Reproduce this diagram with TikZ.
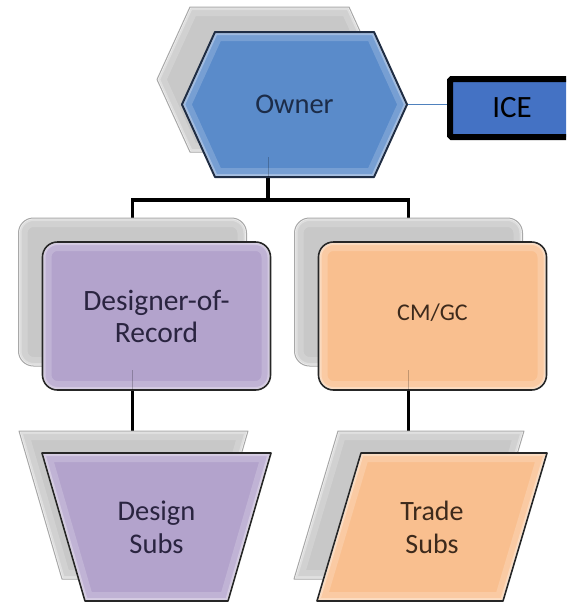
\documentclass[tikz,border=0pt]{standalone}
\usepackage{fontspec}
\setmainfont{Carlito}
\usetikzlibrary{calc}
\definecolor{ownerblue}{HTML}{5A8BCA}
\definecolor{ownerline}{HTML}{1F2D44}
\definecolor{iceblue}{HTML}{4472C4}
\definecolor{icelinec}{HTML}{4F81BD}
\definecolor{lav}{HTML}{B3A3CC}
\definecolor{peach}{HTML}{F9BF8F}
\definecolor{backgray}{HTML}{C8C8C8}
\definecolor{backline}{HTML}{A8A8A8}
\definecolor{ownertext}{HTML}{1C2C48}
\definecolor{lavtext}{HTML}{2A2440}
\definecolor{peachtext}{HTML}{3D2A1C}
\pgfdeclarelayer{conn}
\pgfdeclarelayer{backl}
\pgfdeclarelayer{frontl}
\pgfsetlayers{conn,backl,frontl,main}
\newcommand{\hexp}[2]{(#1.west) -- ($(#1.north west)+(#2,0)$) -- ($(#1.north east)+(-#2,0)$) -- (#1.east) -- ($(#1.south east)+(-#2,0)$) -- ($(#1.south west)+(#2,0)$) -- cycle}
\newcommand{\trapp}[2]{(#1.north west) -- (#1.north east) -- ($(#1.south east)+(-#2,0)$) -- ($(#1.south west)+(#2,0)$) -- cycle}
\newcommand{\parap}[2]{($(#1.north west)+(#2,0)$) -- (#1.north east) -- ($(#1.south east)+(-#2,0)$) -- (#1.south west) -- cycle}
\newcommand{\rrectp}[1]{[rounded corners=15pt] (#1.north west) rectangle (#1.south east)}
\newcommand{\bevelshape}[3]{%
  \fill[#2] #1;
  \begin{scope}
    \clip #1;
    \draw[white,opacity=0.18,line width=18pt] #1;
    \draw[white,opacity=0.30,line width=6pt] #1;
    \begin{scope}[xshift=7pt]
      \draw[white,opacity=0.65,line width=2.2pt] #1;
    \end{scope}
    \begin{scope}[xshift=-7pt]
      \draw[white,opacity=0.35,line width=1.6pt] #1;
    \end{scope}
  \end{scope}
  \draw[#3] #1;
}
\begin{document}
\begin{tikzpicture}[x=1pt,y=-1pt,
  shapebox/.style args={#1/#2}{minimum width=#1pt, minimum height=#2pt, inner sep=0pt, outer sep=0pt, align=center},
  tree/.style={line width=3.6pt, black},
  iceconn/.style={line width=0.9pt, icelinec},
  frontline/.style={line width=1.6pt, black!85, line join=round},
  backedge/.style={line width=1pt, backline, line join=round},
  faint/.style={line width=1pt, black, opacity=0.22}]
\useasboundingbox (0,0) rectangle (566,603);
% ---- nodes (text on main layer)
\node[shapebox=225/145, text=ownertext, font=\fontsize{28.5}{33}\selectfont] (owner) at (294.5,104.5) {Owner};
\node[shapebox=225/145] (ownerback) at (269.5,79.5) {};
\node[shapebox=124/58, font=\fontsize{31}{35}\selectfont] (ice) at (512,108) {ICE};
\node[shapebox=228/148, text=lavtext, font=\fontsize{29.5}{32}\selectfont] (dor) at (156.5,316) {Designer-of-\\Record};
\node[shapebox=228/148] (dorback) at (132.5,292) {};
\node[shapebox=228/148, text=peachtext, font=\fontsize{24}{28}\selectfont, text depth=8pt] (cm) at (432.5,316) {CM/GC};
\node[shapebox=228/148] (cmback) at (408.5,292) {};
\node[shapebox=229/148, text=lavtext, font=\fontsize{28.5}{33}\selectfont] (ds) at (156.5,527) {Design\\Subs};
\node[shapebox=229/148] (dsback) at (133.5,505) {};
\node[shapebox=230/148, text=peachtext, font=\fontsize{28}{33}\selectfont] (ts) at (432,527) {Trade\\Subs};
\node[shapebox=230/148] (tsback) at (409,505) {};
\coordinate (ownerdrop) at ($(owner.south)+(-26.5,0)$);
% ---- connectors
\begin{pgfonlayer}{conn}
\fill[white] (0,0) rectangle (566,603);
\draw[tree] (ownerdrop) -- ++(0,23) -| (dorback.north);
\draw[tree] (ownerdrop) -- ++(0,23) -| (cmback.north);
\draw[tree] (dorback.north |- dor.south) -- (dorback.north |- dsback.north);
\draw[tree] (cmback.north |- cm.south) -- (cmback.north |- tsback.north);
\draw[iceconn] (owner.east) -- (owner.east -| ice.west);
\end{pgfonlayer}
% ---- back shapes
\begin{pgfonlayer}{backl}
\bevelshape{\hexp{ownerback}{33}}{backgray}{backedge}
\bevelshape{\rrectp{dorback}}{backgray}{backedge}
\bevelshape{\rrectp{cmback}}{backgray}{backedge}
\bevelshape{\trapp{dsback}{43}}{backgray}{backedge}
\bevelshape{\parap{tsback}{44}}{backgray}{backedge}
\end{pgfonlayer}
% ---- front shapes
\begin{pgfonlayer}{frontl}
\bevelshape{\hexp{owner}{33}}{ownerblue}{line width=2pt, ownerline, line join=round}
\bevelshape{\rrectp{dor}}{lav}{frontline}
\bevelshape{\rrectp{cm}}{peach}{frontline}
\bevelshape{\trapp{ds}{43}}{lav}{frontline}
\bevelshape{\parap{ts}{44}}{peach}{frontline}
\draw[faint] (ownerdrop) -- ++(0,-20);
\draw[faint] (dorback.north |- dor.south) -- ++(0,-20);
\draw[faint] (cmback.north |- cm.south) -- ++(0,-20);
\begin{scope}
\clip (0,0) rectangle (566,603);
\draw[fill=iceblue, draw=black, line width=6pt, rounded corners=1.5pt] (ice.north west) rectangle (ice.south east);
\end{scope}
\end{pgfonlayer}
\end{tikzpicture}
\end{document}
